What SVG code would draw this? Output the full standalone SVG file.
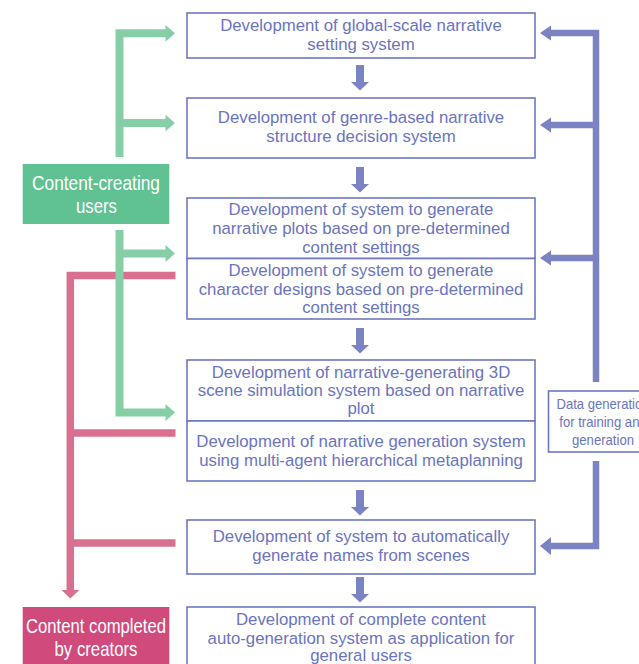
<svg xmlns="http://www.w3.org/2000/svg" width="639" height="664" viewBox="0 0 639 664">
<style>
.box{fill:#fff;stroke:#6e78c0;stroke-width:1.6}
.t{font-family:"Liberation Sans",Arial,sans-serif;font-size:16.8px;fill:#6a74c0;text-anchor:middle}
.lbl{font-family:"Liberation Sans",Arial,sans-serif;font-size:21px;fill:#fff;text-anchor:middle}
.dt{font-family:"Liberation Sans",Arial,sans-serif;font-size:15px;fill:#6a74c0;text-anchor:middle}
.bl{fill:none;stroke:#7b83c3;stroke-width:6.5;stroke-linejoin:miter}
.bh{fill:#7b83c3}
.gl{fill:none;stroke:#86cfa6;stroke-width:8;stroke-linejoin:miter}
.gh{fill:#86cfa6}
.pl{fill:none;stroke:#d9708f;stroke-width:7.5;stroke-linejoin:miter}
.ph{fill:#d9708f}
</style>
<g id="connectors">
  <!-- pink -->
  <path class="pl" d="M175.5 275.5 H70.3 V591"/>
  <path class="pl" d="M175.5 433 H70.3"/>
  <path class="pl" d="M175.5 543 H70.3"/>
  <polygon class="ph" points="61.5,590 79.3,590 70.3,598.5"/>
  <!-- green -->
  <path class="gl" d="M166 33.3 H119.5 V157"/>
  <path class="gl" d="M166 123 H119.5"/>
  <path class="gl" d="M119.5 230 V412.5 H166"/>
  <path class="gl" d="M166 253.5 H119.5"/>
  <polygon class="gh" points="165.5,25 175,33.3 165.5,41.7"/>
  <polygon class="gh" points="165.5,114.7 175,123 165.5,131.3"/>
  <polygon class="gh" points="165.5,245 175,253.5 165.5,262"/>
  <polygon class="gh" points="165.5,404 175,412.5 165.5,421"/>
  <!-- blue right -->
  <path class="bl" d="M550 33 H596 V382"/>
  <path class="bl" d="M550 125 H596"/>
  <path class="bl" d="M550 258 H596"/>
  <path class="bl" d="M596 461 V546 H550"/>
  <polygon class="bh" points="551,25.5 540,33 551,40.5"/>
  <polygon class="bh" points="551,117.5 540,125 551,132.5"/>
  <polygon class="bh" points="551,250.5 540,258 551,265.5"/>
  <polygon class="bh" points="551,537 540,546 551,555"/>
  <!-- blue down arrows -->
  <g class="bh">
    <rect x="356" y="65" width="8" height="18"/><polygon points="351,82 369,82 360,90.5"/>
    <rect x="356" y="167" width="8" height="18"/><polygon points="351,184 369,184 360,192.5"/>
    <rect x="356" y="328" width="8" height="18"/><polygon points="351,345 369,345 360,353.5"/>
    <rect x="356" y="490" width="8" height="18"/><polygon points="351,507 369,507 360,515.5"/>
    <rect x="356" y="577" width="8" height="18"/><polygon points="351,594 369,594 360,602.5"/>
  </g>
</g>
<g id="n1"><rect class="box" x="187" y="13" width="348" height="45"/>
<text class="t" x="361" y="31">Development of global-scale narrative</text>
<text class="t" x="361" y="49.5">setting system</text></g>
<g id="n2"><rect class="box" x="187" y="98" width="348" height="60"/>
<text class="t" x="361" y="123">Development of genre-based narrative</text>
<text class="t" x="361" y="142">structure decision system</text></g>
<g id="n3"><rect class="box" x="187" y="198" width="348" height="60.5"/>
<text class="t" x="361" y="215">Development of system to generate</text>
<text class="t" x="361" y="234">narrative plots based on pre-determined</text>
<text class="t" x="361" y="252.5">content settings</text></g>
<g id="n4"><rect class="box" x="187" y="258.5" width="348" height="60.5"/>
<text class="t" x="361" y="276">Development of system to generate</text>
<text class="t" x="361" y="294.5">character designs based on pre-determined</text>
<text class="t" x="361" y="312.5">content settings</text></g>
<g id="n5"><rect class="box" x="187" y="360" width="348" height="61"/>
<text class="t" x="361" y="378">Development of narrative-generating 3D</text>
<text class="t" x="361" y="396">scene simulation system based on narrative</text>
<text class="t" x="361" y="414">plot</text></g>
<g id="n6"><rect class="box" x="187" y="421" width="348" height="60"/>
<text class="t" x="361" y="447">Development of narrative generation system</text>
<text class="t" x="361" y="466">using multi-agent hierarchical metaplanning</text></g>
<g id="n7"><rect class="box" x="187" y="520" width="348" height="54"/>
<text class="t" x="361" y="542">Development of system to automatically</text>
<text class="t" x="361" y="560.5">generate names from scenes</text></g>
<g id="n8"><rect class="box" x="187" y="607" width="348" height="70"/>
<text class="t" x="361" y="625">Development of complete content</text>
<text class="t" x="361" y="643.5">auto-generation system as application for</text>
<text class="t" x="361" y="661">general users</text></g>
<g id="users"><rect x="22.7" y="164" width="146.6" height="60" fill="#60c193"/>
<text class="lbl" x="96" y="189.5" textLength="128" lengthAdjust="spacingAndGlyphs">Content-creating</text>
<text class="lbl" x="96.5" y="213" textLength="41" lengthAdjust="spacingAndGlyphs">users</text></g>
<g id="creators"><rect x="22.7" y="607" width="146.6" height="70" fill="#d04a7c"/>
<text class="lbl" x="96" y="632.5" textLength="140" lengthAdjust="spacingAndGlyphs">Content completed</text>
<text class="lbl" x="96" y="656" textLength="83" lengthAdjust="spacingAndGlyphs">by creators</text></g>
<g id="data"><rect class="box" x="548.5" y="391" width="110" height="61"/>
<text class="dt" x="603" y="409" textLength="93" lengthAdjust="spacingAndGlyphs">Data generation</text>
<text class="dt" x="603" y="427" textLength="87.5" lengthAdjust="spacingAndGlyphs">for training and</text>
<text class="dt" x="603" y="445" textLength="62" lengthAdjust="spacingAndGlyphs">generation</text></g>
</svg>
